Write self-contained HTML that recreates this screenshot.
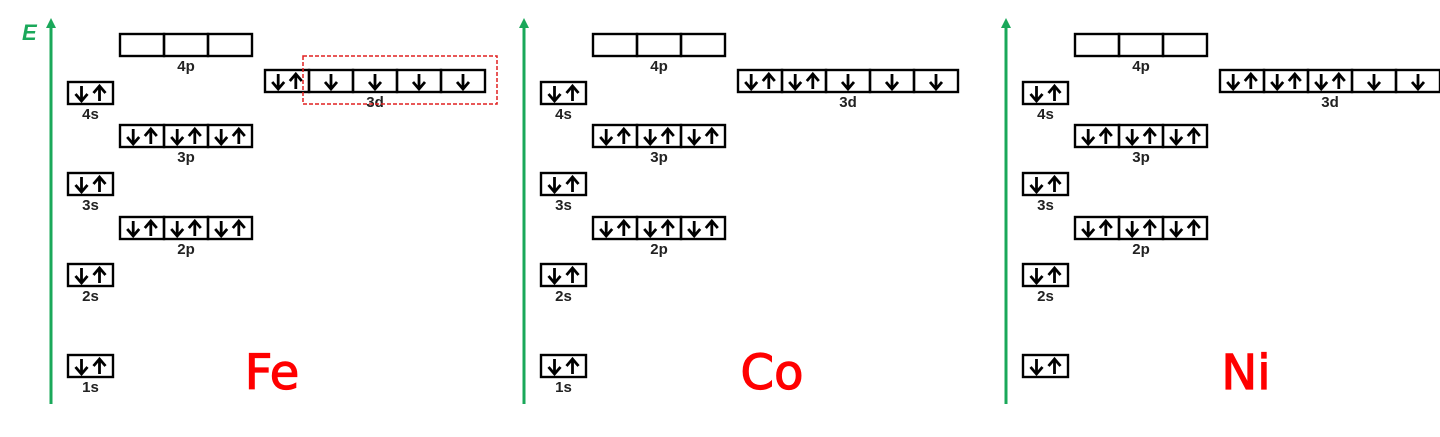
<!DOCTYPE html>
<html><head><meta charset="utf-8"><style>
html,body{margin:0;padding:0;background:#fff;width:1440px;height:437px;overflow:hidden}
svg{display:block}
.lbl{font-family:"Liberation Sans",sans-serif;font-weight:bold;font-size:15px;fill:#222;text-anchor:middle}
.el{font-family:"DejaVu Sans",sans-serif;font-weight:normal;font-size:48px;fill:#f00;stroke:#f00;stroke-width:1.2;text-anchor:middle}
</style></head><body>
<svg id="c" width="1440" height="437"></svg>
<script>
const elements = ["Fe","Co","Ni"];
const panelOffsets = [0,473,955];
const elementLabelX = [272,772,1246];
const orbitals = ["1s","2s","2p","3s","3p","4s","3d","4p"];
// electrons per orbital cell, per element: 2 = paired, 1 = single (down), 0 = empty
const feCells = [[2],[2],[2,2,2],[2],[2,2,2],[2],[2,1,1,1,1],[0,0,0]];
const coCells = [[2],[2],[2,2,2],[2],[2,2,2],[2],[2,2,1,1,1],[0,0,0]];
const niCells = [[2],[2],[2,2,2],[2],[2,2,2],[2],[2,2,2,1,1],[0,0,0]];
const cellsByElement = [feCells, coCells, niCells];
const showLabel1s = [true,true,false];

const NS="http://www.w3.org/2000/svg";
const svg=document.getElementById('c');
function mk(tag,attrs,parent){const e=document.createElementNS(NS,tag);for(const k in attrs)e.setAttribute(k,attrs[k]);(parent||svg).appendChild(e);return e;}
const layout={"1s":[68,355,45],"2s":[68,264,45],"2p":[120,217,44],"3s":[68,173,45],"3p":[120,125,44],"4s":[68,82,45],"3d":[265,70,44],"4p":[120,34,44]};
function arrow(g,x,y0,up){
  const top=y0+4,bot=y0+19;
  mk('line',{x1:x,y1:top,x2:x,y2:bot,stroke:'#000','stroke-width':2.8},g);
  if(up) mk('polyline',{points:`${x-6},${top+7} ${x},${top} ${x+6},${top+7}`,fill:'none',stroke:'#000','stroke-width':2.8},g);
  else mk('polyline',{points:`${x-6},${bot-7} ${x},${bot} ${x+6},${bot-7}`,fill:'none',stroke:'#000','stroke-width':2.8},g);
}
elements.forEach((el,ei)=>{
  const ox=panelOffsets[ei];
  const g=mk('g',{});
  
  
  const ax=mk('line',{x1:51+ox,y1:404,x2:51+ox,y2:26,stroke:'#1aa85a','stroke-width':3},g);
  
  
  mk('polygon',{points:`${46+ox},${28} ${51+ox},${18} ${56+ox},${28}`,fill:'#1aa85a'},g);
  if(ei===0){
    const t=mk('text',{x:22,y:40,'font-family':'Liberation Sans,sans-serif','font-weight':'bold','font-style':'italic','font-size':22,fill:'#1aa85a'},g);
    t.textContent='E';
    
    
  }
  orbitals.forEach((orb,oi)=>{
    const cells=cellsByElement[ei][oi];
    const [x0,y0,w]=layout[orb];
    const og=mk('g',{},g);
    
    
    cells.forEach((n,ci)=>{
      const x=x0+ox+ci*w;
      mk('rect',{x:x,y:y0,width:w,height:22,fill:'none',stroke:'#000','stroke-width':2.4},og);
      if(n===2){arrow(og,x+w*0.3,y0,false);arrow(og,x+w*0.7,y0,true);}
      else if(n===1){arrow(og,x+w/2,y0,false);}
    });
    if(orb!=="1s"||showLabel1s[ei]){
      const cx=x0+ox+cells.length*w/2;
      const t=mk('text',{x:cx,y:y0+37,class:'lbl'},og);
      t.textContent=orb;
      
      
    }
  });
  const t=mk('text',{x:elementLabelX[ei],y:389,class:'el'},g);
  t.textContent=el;
  
  
  if(ei===0){
    const r=mk('rect',{x:303,y:56,width:194,height:48,fill:'none',stroke:'#e02020','stroke-width':1.5,'stroke-dasharray':'4,2'},g);
    
    
  }
});
</script>
</body></html>
